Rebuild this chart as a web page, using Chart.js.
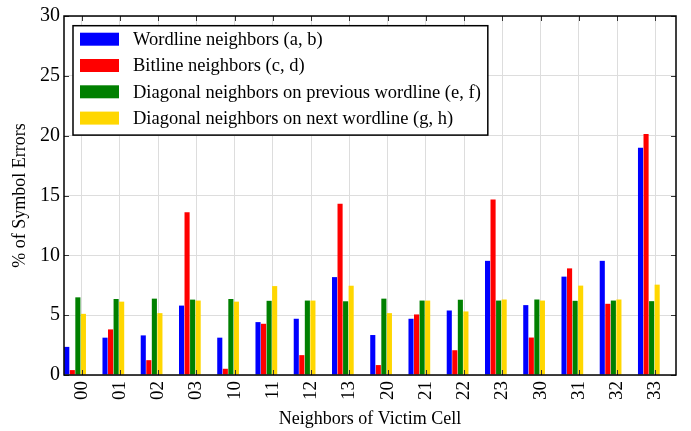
<!DOCTYPE html>
<html>
<head>
<meta charset="utf-8">
<script src="https://cdn.jsdelivr.net/npm/chart.js@4.4.1/dist/chart.umd.min.js"></script>
<style>
  html, body { margin: 0; padding: 0; background: #fff; }
  canvas { display: block; }
</style>
</head>
<body>
<canvas id="chart" width="691" height="431"></canvas>
<script>
// Neighbor patterns of the victim cell (x categories)
const neighborLabels = ['00', '01', '02', '03', '10', '11', '12', '13',
                        '20', '21', '22', '23', '30', '31', '32', '33'];

// % of symbol errors for each neighbor group
const wordline = [2.35, 3.12, 3.31, 5.80, 3.12, 4.42, 4.70, 8.18,
                  3.34, 4.70, 5.39, 9.54, 5.84, 8.22, 9.54, 19.0];
const bitline  = [0.41, 3.81, 1.24, 13.59, 0.52, 4.28, 1.66, 14.31,
                  0.83, 5.06, 2.07, 14.66, 3.13, 8.91, 5.95, 20.14];
const diagPrev = [6.49, 6.35, 6.38, 6.30, 6.35, 6.20, 6.22, 6.16,
                  6.38, 6.22, 6.29, 6.22, 6.31, 6.20, 6.22, 6.17];
const diagNext = [5.11, 6.13, 5.17, 6.22, 6.13, 7.43, 6.22, 7.46,
                  5.17, 6.22, 5.31, 6.31, 6.22, 7.47, 6.31, 7.55];

const seriesNames = [
  'Wordline neighbors (a, b)',
  'Bitline neighbors (c, d)',
  'Diagonal neighbors on previous wordline (e, f)',
  'Diagonal neighbors on next wordline (g, h)'
];
const seriesColors = ['#0000ff', '#ff0000', '#008000', '#ffd700'];

const SERIF = '"Liberation Serif", "Times New Roman", serif';
// Bar groups sit left of the tick position on a 0..16 linear axis
const GROUP_OFFSET = 0.29;
const TICK_OFFSET = 0.46;

function toPoints(values) {
  return values.map((v, i) => ({ x: i + GROUP_OFFSET, y: v }));
}

// Frame, inward tick marks and the boxed legend inside the plot
const framePlugin = {
  id: 'frameAndLegend',
  afterDatasetsDraw(chart) {
    const { ctx, chartArea: a, scales: { x, y } } = chart;
    ctx.save();

    ctx.strokeStyle = '#333';
    ctx.lineWidth = 1;
    const L = 5;
    ctx.beginPath();
    x.ticks.forEach(t => {
      const px = Math.round(x.getPixelForValue(t.value)) + 0.5;
      ctx.moveTo(px, a.top); ctx.lineTo(px, a.top + L);
      ctx.moveTo(px, a.bottom); ctx.lineTo(px, a.bottom - L);
    });
    y.ticks.forEach(t => {
      const py = Math.round(y.getPixelForValue(t.value)) + 0.5;
      ctx.moveTo(a.left, py); ctx.lineTo(a.left + L, py);
      ctx.moveTo(a.right, py); ctx.lineTo(a.right - L, py);
    });
    ctx.stroke();

    ctx.strokeStyle = '#000';
    ctx.lineWidth = 1.5;
    ctx.strokeRect(a.left, a.top, a.right - a.left, a.bottom - a.top);

    // legend
    ctx.font = '18.5px ' + SERIF;
    const names = chart.data.datasets.map(d => d.label);
    const textW = Math.max(...names.map(n => ctx.measureText(n).width));
    const pad = 7, patchW = 39, patchH = 13, gap = 14, rowH = 26.3;
    const bx = a.left + 9, by = a.top + 9.7;
    const bw = pad + patchW + gap + textW + pad;
    const bh = pad + rowH * names.length - (rowH - patchH) + pad + 3.5;
    ctx.fillStyle = '#fff';
    ctx.fillRect(bx, by, bw, bh);
    ctx.strokeStyle = '#000';
    ctx.lineWidth = 1.5;
    ctx.strokeRect(bx, by, bw, bh);
    ctx.textBaseline = 'middle';
    ctx.textAlign = 'left';
    chart.data.datasets.forEach((d, i) => {
      const cy = by + pad + patchH / 2 + i * rowH;
      ctx.fillStyle = d.backgroundColor;
      ctx.fillRect(bx + pad, cy - patchH / 2, patchW, patchH);
      ctx.fillStyle = '#000';
      ctx.fillText(d.label, bx + pad + patchW + gap, cy + 1);
    });

    ctx.restore();
  }
};

const seriesValues = [wordline, bitline, diagPrev, diagNext];

new Chart(document.getElementById('chart'), {
  type: 'bar',
  data: {
    datasets: seriesValues.map((vals, i) => ({
      label: seriesNames[i],
      data: toPoints(vals),
      backgroundColor: seriesColors[i],
      borderWidth: 0,
      barPercentage: 0.92,
      categoryPercentage: 0.58
    }))
  },
  options: {
    responsive: false,
    animation: false,
    devicePixelRatio: 1,
    layout: { padding: { top: 13, right: 15, left: 0, bottom: 0 } },
    plugins: { legend: { display: false }, tooltip: { enabled: false } },
    scales: {
      x: {
        type: 'linear',
        min: 0,
        max: 16,
        offset: false,
        grid: { color: '#dddddd', lineWidth: 1, drawTicks: false, offset: false },
        border: { display: false },
        afterBuildTicks(scale) {
          scale.ticks = neighborLabels.map((_, i) => ({ value: i + TICK_OFFSET }));
        },
        ticks: {
          autoSkip: false,
          minRotation: 90,
          maxRotation: 90,
          padding: 6,
          color: '#000',
          font: { family: SERIF, size: 19 },
          callback: (v, i) => neighborLabels[i]
        },
        title: {
          display: true,
          text: 'Neighbors of Victim Cell',
          color: '#000',
          font: { family: SERIF, size: 18 },
          padding: { top: 0, bottom: 1 }
        },
        afterFit(scale) { scale.height = 56; }
      },
      y: {
        min: 0,
        max: 30,
        grid: { color: '#dddddd', lineWidth: 1, drawTicks: false },
        border: { display: false },
        ticks: {
          stepSize: 5,
          padding: 4,
          color: '#000',
          font: { family: SERIF, size: 20 }
        },
        title: {
          display: true,
          text: '% of Symbol Errors',
          color: '#000',
          font: { family: SERIF, size: 18 },
          padding: { top: 9, bottom: 0 }
        },
        afterFit(scale) { scale.width = 64; }
      }
    }
  },
  plugins: [framePlugin]
});
</script>
</body>
</html>
